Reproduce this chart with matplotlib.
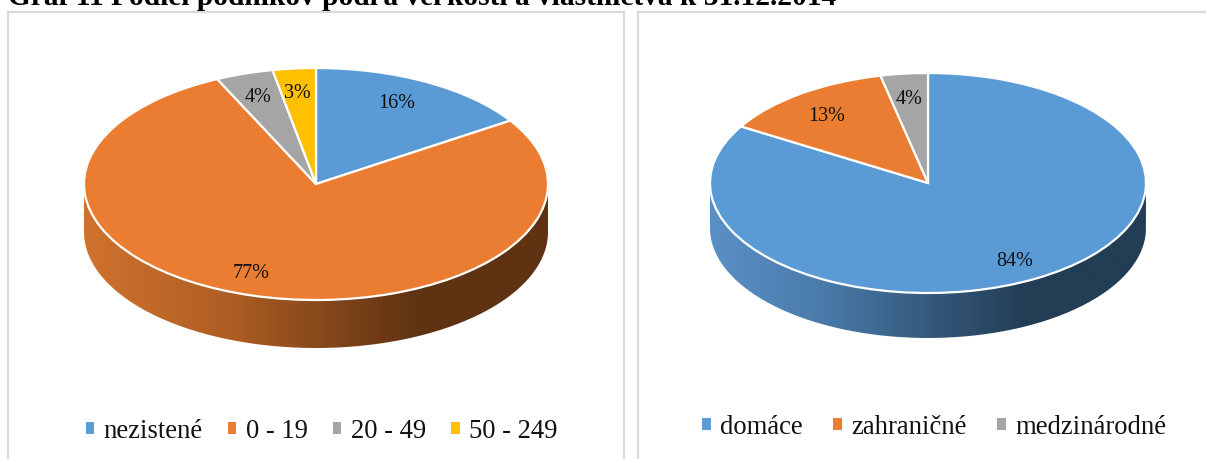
import numpy as np
import matplotlib
matplotlib.use("Agg")
import matplotlib.pyplot as plt
from matplotlib.colors import LinearSegmentedColormap
from matplotlib.path import Path
from matplotlib.patches import PathPatch, Rectangle

title = "Graf 11 Podiel podnikov podľa veľkosti a vlastníctva k 31.12.2014"
left_categories = ["nezistené", "0 - 19", "20 - 49", "50 - 249"]
left_values = [15.8, 77.2, 4.0, 3.0]
left_colors = ["#5B9BD5", "#EB7D32", "#A5A5A5", "#FFC000"]
right_categories = ["domáce", "zahraničné", "medzinárodné"]
right_values = [83.6, 12.9, 3.5]
right_colors = ["#5B9BD5", "#EB7D32", "#A5A5A5"]

W, H = 1206, 459
plt.rcParams["font.family"] = ["Liberation Serif", "DejaVu Serif"]
fig = plt.figure(figsize=(W / 100, H / 100), dpi=100, facecolor="white")
bg = fig.add_axes([0, 0, 1, 1], zorder=0)
bg.set_xlim(0, W); bg.set_ylim(H, 0); bg.axis("off")

for x0, x1 in [(8, 624), (638, 1210)]:
    bg.add_patch(Rectangle((x0, 12), x1 - x0, H, fc="white", ec="#D9D9D9", lw=1.6))

def side(cx, cy, rx, ry, depth, colors, stops):
    t = np.linspace(np.pi, 0, 200)
    top = np.c_[cx + rx * np.cos(t), cy + ry * np.sin(t)]
    bot = np.c_[cx + rx * np.cos(t[::-1]), cy + depth + ry * np.sin(t[::-1])]
    clip = PathPatch(Path(np.r_[top, bot, top[:1]]), transform=bg.transData, fc="none", ec="none")
    bg.add_patch(clip)
    cmap = LinearSegmentedColormap.from_list("s", list(zip(stops, colors)))
    im = bg.imshow(np.linspace(0, 1, 512)[None, :], cmap=cmap, aspect="auto",
                   extent=(cx - rx, cx + rx, cy + ry + depth, cy), zorder=1)
    im.set_clip_path(clip)
    bg.set_xlim(0, W); bg.set_ylim(H, 0)

def pie(cx, cy, rx, ry, values, colors):
    ax = fig.add_axes([(cx - rx) / W, 1 - (cy + ry) / H, 2 * rx / W, 2 * ry / H], zorder=2)
    wedges, _ = ax.pie(values, colors=colors, startangle=90, counterclock=False, radius=1,
                       wedgeprops=dict(edgecolor="white", linewidth=1.6, clip_on=False))
    ax.set_aspect("auto"); ax.set_xlim(-1, 1); ax.set_ylim(-1, 1)
    ax.patch.set_visible(False)
    return wedges

side(316, 184, 232, 116, 48, ["#D0722E", "#B05F24", "#5F3212", "#5F3212"], [0, 0.3, 0.72, 1])
side(928, 183, 218, 110, 45, ["#5B90C6", "#4A7CAB", "#233D55", "#233D55"], [0, 0.25, 0.72, 1])
lw = pie(316, 184, 232, 116, left_values, left_colors)
rw = pie(928, 183, 218, 110, right_values, right_colors)

label_pos_left = [(397, 104), (251, 274), (258, 97), (297, 94)]
label_pos_right = [(1015, 262), (827, 116), (909, 99)]
for vals, pos in [(left_values, label_pos_left), (right_values, label_pos_right)]:
    for v, (x, y) in zip(vals, pos):
        fig.text(x / W, 1 - y / H, f"{v:.0f}%", ha="center", va="center",
                 fontsize=14.5, color="#111111", zorder=5)

fig.text(8 / W, 1 - 5 / H, title, fontsize=21.2, fontweight="bold", ha="left", va="baseline")

def legend(handles, labels, x, y, size, spacing):
    leg = fig.legend(handles, labels, loc="center", bbox_to_anchor=(x / W, 1 - y / H),
                     ncol=len(labels), frameon=False, fontsize=size, handlelength=0.32,
                     handleheight=0.32, handletextpad=0.35, columnspacing=spacing,
                     borderpad=0, borderaxespad=0)
    for h in leg.legend_handles:
        h.set_edgecolor("none")
    for t in leg.get_texts():
        t.set_color("#111111")

legend(lw, left_categories, 321.5, 431, 19.2, 0.95)
legend(rw, right_categories, 934, 427, 19.2, 1.15)

fig.savefig("out.png", dpi=100)
